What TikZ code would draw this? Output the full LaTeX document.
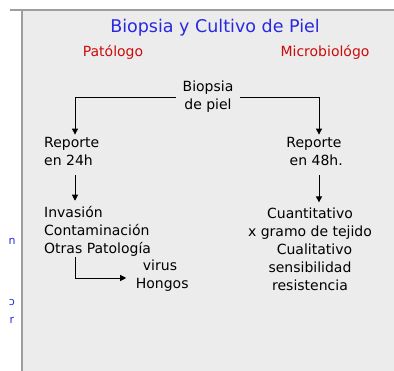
\documentclass[tikz,border=0pt]{standalone}
\usepackage{fontspec}
\setmainfont{DejaVu Sans}
\usepackage{tikz}
\usetikzlibrary{positioning,arrows.meta}
\definecolor{pgray}{RGB}{236,236,236}
\definecolor{bgray}{RGB}{158,158,158}
\definecolor{tblue}{RGB}{40,40,225}
\definecolor{tred}{RGB}{205,10,10}

\begin{document}
\begin{tikzpicture}[x=1pt,y=-1pt,
  txt/.style={font=\fontsize{14}{18}\selectfont, inner sep=2pt},
  arr/.style={-{Triangle[length=6pt,width=6pt]}, line width=0.9pt}]
\useasboundingbox (0,0) rectangle (394,371);
% Panel
\fill[pgray] (22,10) rectangle (394,371);
\draw[bgray, line width=2pt] (10,10) -- (394,10);
\draw[bgray, line width=2pt] (22,10) -- (22,371);

% Stray letters on the left
\node[text=tblue, font=\fontsize{11}{11}\selectfont, inner sep=0pt] (fa) at (12,241) {n};
\node[text=tblue, font=\fontsize{11}{11}\selectfont, inner sep=0pt] (fb) at (12,302) {ɔ};
\node[text=tblue, font=\fontsize{11}{11}\selectfont, inner sep=0pt] (fc) at (12,320) {r};

% Headings
\node[text=tblue, font=\fontsize{17.5}{20}\selectfont] (title) at (215,28) {Biopsia y Cultivo de Piel};
\node[txt, text=tred] (pato) at (113,52) {Patólogo};
\node[txt, text=tred] (micro) at (325,52) {Microbiológo};

% Boxes
\node[txt, align=center, inner xsep=6pt] (biop) at (208,97) {Biopsia\\de piel};
\node[txt, align=left, anchor=west] (rep24) at (42,151) {Reporte\\en 24h};
\node[txt, align=center] (rep48) at (314,151) {Reporte\\\ en 48h.};
\node[txt, align=left, anchor=west] (inv) at (42,231) {Invasión\\Contaminación\\Otras Patología};
\node[txt, align=center, inner xsep=5pt] (virus) at (160,276) {virus\\\ Hongos};
\node[txt, align=center] (cuant) at (310,249) {Cuantitativo\\x gramo de tejido\\\ \ Cualitativo\\sensibilidad\\resistencia};

% Arrows
\draw[arr] (biop.west) -| ([xshift=33pt]rep24.north west);
\draw[arr] (biop.east) -| ([xshift=5pt]rep48.north);
\draw[arr, shorten <=8pt] ([xshift=33pt]rep24.south west) -- ([xshift=33pt,yshift=3pt]inv.north west);
\draw[arr, shorten <=8pt] ([xshift=5pt]rep48.south) -- ([xshift=5pt,yshift=3pt]rep48.south |- cuant.north);
\draw[arr] ([xshift=33pt,yshift=1pt]inv.south west) |- ([yshift=-2pt]virus.west);
\end{tikzpicture}
\end{document}
